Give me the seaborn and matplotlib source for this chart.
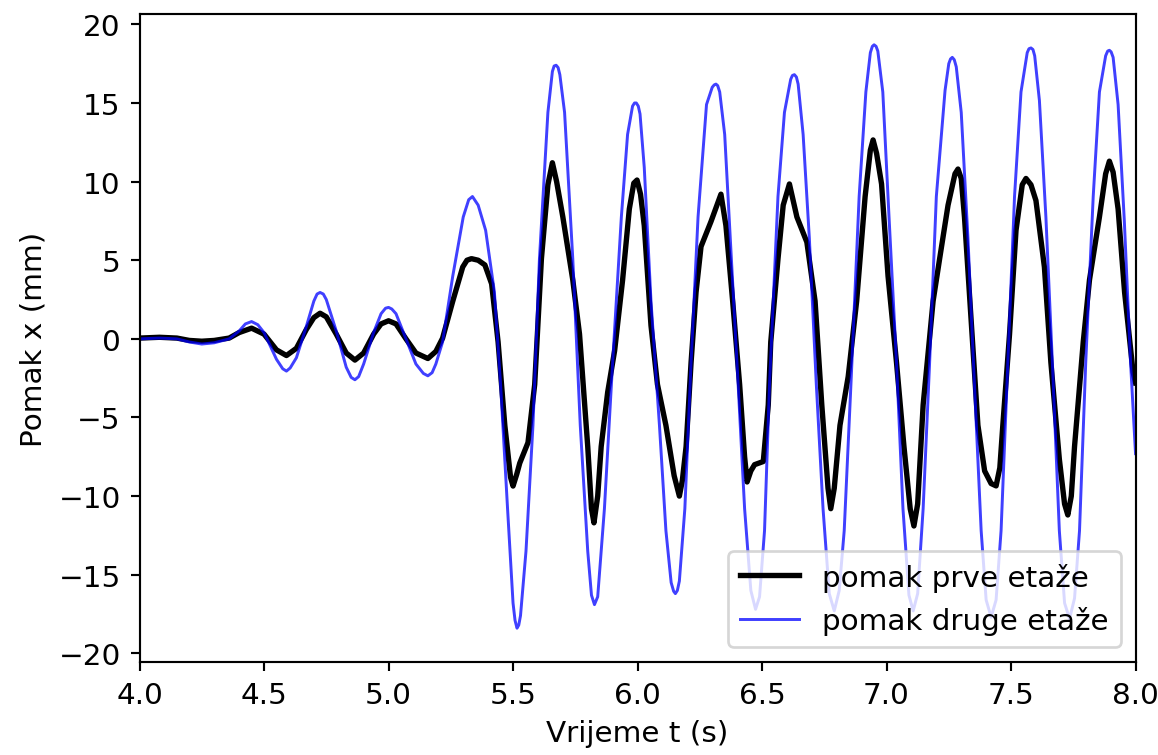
import matplotlib
matplotlib.use("Agg")
import matplotlib.pyplot as plt
import seaborn as sns
import pandas as pd

# First floor displacement (black)
t_first = [4.00, 4.08, 4.15, 4.20, 4.25, 4.30, 4.36, 4.40, 4.45, 4.50, 4.55, 4.59, 4.63, 4.67, 4.70,
           4.725, 4.75, 4.79, 4.83, 4.865, 4.90, 4.94, 4.97, 5.00, 5.03, 5.07, 5.11, 5.158, 5.19, 5.217,
           5.258, 5.298, 5.315, 5.333, 5.36, 5.387, 5.414, 5.44, 5.467, 5.49, 5.50, 5.515, 5.527, 5.56,
           5.587, 5.614, 5.64, 5.658, 5.675, 5.70, 5.74, 5.767, 5.80, 5.815, 5.825, 5.84, 5.854, 5.88,
           5.908, 5.94, 5.967, 5.985, 5.998, 6.012, 6.027, 6.054, 6.08, 6.114, 6.147, 6.168, 6.18, 6.195,
           6.215, 6.235, 6.255, 6.295, 6.335, 6.355, 6.382, 6.41, 6.43, 6.44, 6.455, 6.47, 6.505, 6.525,
           6.535, 6.564, 6.585, 6.61, 6.64, 6.68, 6.713, 6.74, 6.765, 6.776, 6.79, 6.813, 6.846, 6.88,
           6.914, 6.935, 6.946, 6.96, 6.98, 7.006, 7.04, 7.07, 7.095, 7.11, 7.125, 7.147, 7.187, 7.213,
           7.247, 7.275, 7.287, 7.30, 7.313, 7.34, 7.367, 7.394, 7.42, 7.44, 7.455, 7.467, 7.494, 7.52,
           7.545, 7.56, 7.58, 7.60, 7.634, 7.66, 7.694, 7.715, 7.728, 7.742, 7.755, 7.79, 7.815, 7.855,
           7.88, 7.895, 7.91, 7.93, 7.956, 7.99, 8.00]
x_first = [0.05, 0.1, 0.05, -0.1, -0.15, -0.1, 0.05, 0.4, 0.68, 0.3, -0.7, -1.06, -0.6, 0.6, 1.35,
           1.63, 1.4, 0.3, -0.9, -1.35, -0.9, 0.3, 0.95, 1.15, 0.95, 0.0, -0.9, -1.25, -0.8, 0.04,
           2.4, 4.57, 5.0, 5.1, 5.0, 4.7, 3.5, -0.2, -5.5, -8.8, -9.36, -8.6, -7.9, -6.6,
           -2.9, 5.1, 9.8, 11.2, 10.0, 7.75, 3.74, 0.3, -6.85, -10.8, -11.7, -10.0, -6.85, -3.4,
           -0.75, 3.74, 8.26, 9.9, 10.1, 9.2, 7.2, 0.85, -2.9, -5.5, -8.7, -10.0, -9.0, -6.85,
           -1.5, 2.97, 5.87, 7.46, 9.2, 7.2, 2.4, -2.9, -7.5, -9.1, -8.4, -8.0, -7.8, -4.2,
           -0.2, 5.07, 8.5, 9.85, 7.75, 6.15, 2.4, -4.2, -9.5, -10.8, -9.5, -5.5, -2.4, 2.4,
           9.05, 12.0, 12.65, 11.8, 9.85, 4.0, -1.5, -6.85, -10.8, -11.9, -10.5, -4.2, 2.4, 5.07,
           8.5, 10.5, 10.8, 10.2, 7.75, 1.1, -5.5, -8.4, -9.2, -9.35, -8.2, -5.5, 0.3, 6.9,
           9.8, 10.2, 9.8, 8.8, 4.57, -1.5, -7.65, -10.5, -11.2, -10.0, -6.85, -0.2, 3.74, 7.75,
           10.5, 11.3, 10.6, 8.26, 2.97, -2.1, -2.8]

# Second floor displacement (blue)
t_second = [4.00, 4.08, 4.15, 4.20, 4.25, 4.30, 4.36, 4.40, 4.425, 4.45, 4.475, 4.50, 4.55, 4.575, 4.59,
            4.605, 4.63, 4.67, 4.70, 4.713, 4.725, 4.738, 4.75, 4.79, 4.83, 4.85, 4.865, 4.88, 4.90, 4.94,
            4.97, 4.988, 5.00, 5.013, 5.03, 5.07, 5.11, 5.14, 5.158, 5.175, 5.19, 5.217,
            5.258, 5.30, 5.322, 5.337, 5.36, 5.39, 5.425, 5.45, 5.478, 5.50, 5.508, 5.516, 5.523, 5.53,
            5.552, 5.58, 5.606, 5.64, 5.658, 5.665, 5.673, 5.681, 5.688, 5.707, 5.74, 5.77, 5.80, 5.815,
            5.827, 5.84, 5.867, 5.90, 5.935, 5.96, 5.98, 5.988, 5.995, 6.003, 6.01, 6.027, 6.054, 6.088,
            6.114, 6.135, 6.145, 6.152, 6.16, 6.168, 6.19, 6.215, 6.243, 6.277, 6.30, 6.308, 6.315, 6.322,
            6.33, 6.35, 6.377, 6.404, 6.43, 6.455, 6.474, 6.49, 6.51, 6.53, 6.564, 6.59, 6.615, 6.622,
            6.63, 6.638, 6.645, 6.665, 6.69, 6.718, 6.745, 6.77, 6.79, 6.81, 6.83, 6.857, 6.89, 6.917,
            6.935, 6.943, 6.95, 6.958, 6.965, 6.985, 7.01, 7.04, 7.066, 7.09, 7.107, 7.125, 7.147, 7.173,
            7.20, 7.235, 7.25, 7.257, 7.264, 7.272, 7.28, 7.30, 7.327, 7.353, 7.38, 7.40, 7.42, 7.44,
            7.46, 7.487, 7.514, 7.54, 7.565, 7.572, 7.58, 7.588, 7.595, 7.614, 7.64, 7.666, 7.694, 7.715,
            7.735, 7.755, 7.775, 7.80, 7.83, 7.855, 7.88, 7.888, 7.895, 7.902, 7.91, 7.93, 7.955, 7.98,
            8.00]
x_second = [0.0, 0.05, 0.0, -0.2, -0.33, -0.25, 0.0, 0.5, 0.95, 1.1, 0.9, 0.4, -1.3, -1.9, -2.05,
            -1.85, -1.2, 0.8, 2.4, 2.85, 2.95, 2.85, 2.5, 0.5, -1.8, -2.45, -2.6, -2.4, -1.6, 0.4,
            1.6, 1.95, 2.0, 1.9, 1.6, 0.0, -1.6, -2.2, -2.35, -2.15, -1.6, -0.2,
            4.0, 7.75, 8.85, 9.05, 8.5, 6.9, 3.0, -2.9, -10.8, -16.8, -17.9, -18.4, -18.2, -17.6,
            -13.5, -5.5, 5.07, 14.4, 17.0, 17.35, 17.4, 17.25, 16.8, 14.4, 5.07, -5.5, -13.5, -16.3,
            -16.9, -16.4, -10.8, -1.5, 7.75, 13.0, 14.8, 15.0, 15.0, 14.8, 14.3, 10.9, 2.4, -5.5,
            -12.2, -15.5, -16.05, -16.2, -16.0, -15.4, -10.8, -1.5, 7.75, 14.9, 16.0, 16.15, 16.2, 16.1,
            15.7, 13.0, 5.07, -2.9, -10.8, -16.0, -17.2, -16.4, -12.2, -2.9, 9.05, 14.4, 16.5, 16.75,
            16.8, 16.65, 16.2, 13.0, 6.4, -2.9, -10.8, -16.2, -17.3, -16.0, -12.2, -2.9, 9.05, 15.7,
            18.2, 18.6, 18.7, 18.6, 18.3, 15.7, 7.75, -1.5, -10.8, -16.3, -17.3, -16.2, -10.8, -1.5,
            9.05, 15.8, 17.5, 17.8, 17.9, 17.75, 17.3, 14.4, 6.4, -2.9, -12.2, -16.6, -17.7, -16.6,
            -12.2, -1.5, 9.05, 15.7, 18.2, 18.45, 18.5, 18.4, 18.0, 15.15, 7.75, -1.5, -12.2, -16.8,
            -17.8, -16.5, -12.2, -1.5, 9.05, 15.7, 18.0, 18.3, 18.35, 18.25, 17.9, 14.9, 7.5, -1.5,
            -7.3]

label_first = "pomak prve etaže"
label_second = "pomak druge etaže"

df1 = pd.DataFrame({"t": t_first, "x": x_first})
df2 = pd.DataFrame({"t": t_second, "x": x_second})

plt.rcParams["font.size"] = 11

fig, ax = plt.subplots(figsize=(6.0, 3.917), dpi=193)
fig.subplots_adjust(left=0.1205, right=0.9806, bottom=0.123, top=0.9798)

sns.lineplot(data=df1, x="t", y="x", ax=ax, color="k", linewidth=2.0,
             label=label_first, estimator=None, sort=False)
sns.lineplot(data=df2, x="t", y="x", ax=ax, color="b", linewidth=1.1, alpha=0.75,
             label=label_second, estimator=None, sort=False)

ax.set_xlim(4.0, 8.0)
ax.set_ylim(-20.55, 20.64)
ax.set_xticks([4.0, 4.5, 5.0, 5.5, 6.0, 6.5, 7.0, 7.5, 8.0])
ax.set_yticks([-20, -15, -10, -5, 0, 5, 10, 15, 20])
ax.set_xlabel("Vrijeme t (s)")
ax.set_ylabel("Pomak x (mm)")
ax.legend(loc="lower right")

fig.savefig("out.png", dpi=193)
